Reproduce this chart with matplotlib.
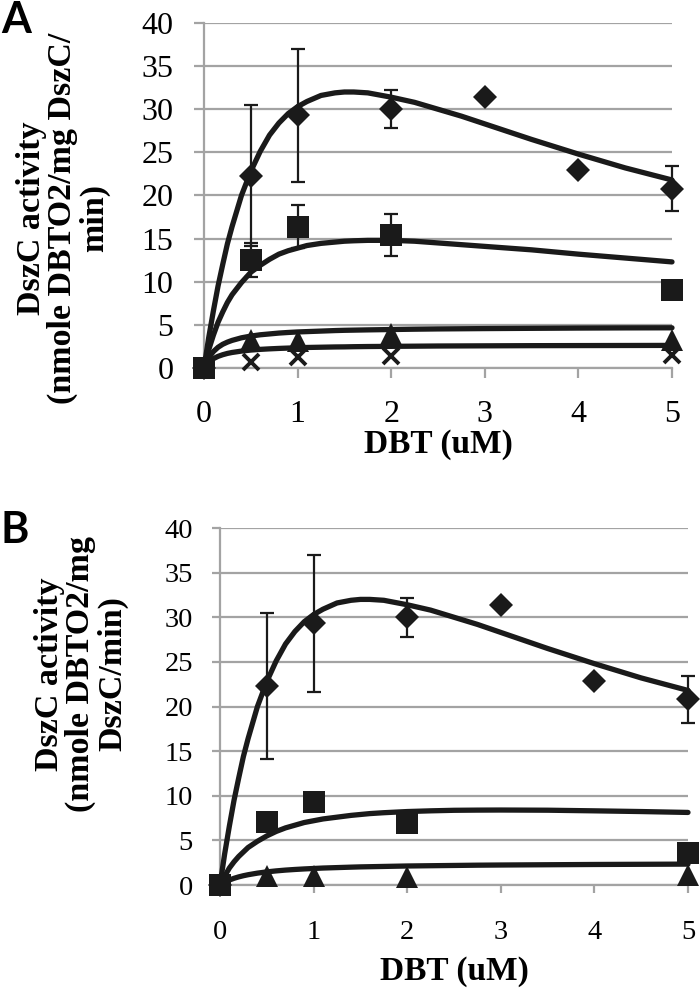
import matplotlib
matplotlib.use("Agg")
import matplotlib.pyplot as plt

# ---------------- data ----------------
pts_x = [0, 0.5, 1, 2, 3, 4, 5]
diamond_y = [0, 22.3, 29.3, 30.0, 31.4, 22.9, 20.8]
diamond_err = [0, 8.2, 7.7, 2.2, 0, 0, 2.6]

sq_x = [0, 0.5, 1, 2, 5]
sqA_y = [0, 12.5, 16.4, 15.4, 9.1]
sqA_err = [0, 2.0, 2.5, 2.4, 1.0]
triA_y = [0, 3.2, 3.1, 3.9, 3.3]
crossA_y = [0, 0.7, 1.3, 1.4, 1.5]

sqB_y = [0, 7.1, 9.3, 7.0, 3.6]
sqB_err = [0, 0, 0.8, 0, 0]
triB_y = [0, 1.0, 1.0, 0.9, 1.1]

# fitted curves
cx = [0, 0.05, 0.1, 0.15, 0.2, 0.25, 0.3, 0.4, 0.5, 0.6, 0.7, 0.8, 0.9, 1.0, 1.1,
      1.25, 1.4, 1.5, 1.6, 1.75, 2.0, 2.25, 2.5, 2.75, 3.0, 3.5, 4.0, 4.5, 5.0]
curve_diamond = [0, 3.5, 6.6, 9.5, 12.0, 14.4, 16.4, 20.0, 22.8, 25.1, 27.0, 28.4, 29.5, 30.3, 30.9,
                 31.6, 31.9, 32.0, 32.0, 31.9, 31.4, 30.8, 30.0, 29.2, 28.3, 26.5, 24.8, 23.2, 21.8]
curve_sqA = [0, 2.1, 3.8, 5.3, 6.5, 7.6, 8.5, 9.9, 11.1, 11.9, 12.6, 13.2, 13.6, 13.9, 14.2,
             14.45, 14.6, 14.7, 14.75, 14.8, 14.8, 14.7, 14.5, 14.3, 14.1, 13.7, 13.2, 12.75, 12.3]
curve_triA = [0, 1.2, 1.9, 2.4, 2.75, 3.0, 3.2, 3.5, 3.7, 3.85, 3.95, 4.05, 4.12, 4.18, 4.22,
              4.28, 4.34, 4.37, 4.39, 4.42, 4.46, 4.5, 4.53, 4.55, 4.57, 4.6, 4.63, 4.65, 4.66]
curve_crossA = [0, 0.68, 1.08, 1.35, 1.54, 1.69, 1.8, 1.96, 2.08, 2.16, 2.22, 2.27, 2.31, 2.35, 2.38,
                2.41, 2.44, 2.45, 2.47, 2.49, 2.51, 2.53, 2.55, 2.56, 2.57, 2.59, 2.60, 2.61, 2.62]
curve_sqB = [0, 1.0, 1.9, 2.6, 3.2, 3.7, 4.2, 4.9, 5.5, 6.0, 6.4, 6.7, 7.0, 7.2, 7.4,
             7.6, 7.8, 7.9, 8.0, 8.1, 8.23, 8.31, 8.37, 8.39, 8.4, 8.38, 8.31, 8.23, 8.13]
curve_triB = [0, 0.31, 0.56, 0.75, 0.91, 1.04, 1.15, 1.33, 1.47, 1.58, 1.67, 1.74, 1.8, 1.85, 1.9,
              1.95, 2.0, 2.03, 2.05, 2.08, 2.13, 2.16, 2.19, 2.22, 2.24, 2.27, 2.30, 2.32, 2.34]

x_ticks = [0, 1, 2, 3, 4, 5]
y_ticks = [0, 5, 10, 15, 20, 25, 30, 35, 40]
ylabel_A = "DszC activity\n(nmole DBTO2/mg DszC/\nmin)"
ylabel_B = "DszC activity\n(nmole DBTO2/mg\nDszC/min)"
xlabel = "DBT (uM)"

# ---------------- style ----------------
W, H = 700, 988
fig = plt.figure(figsize=(W / 100, H / 100), dpi=100)
GRAY = "#a3a3a3"
INK = "#1a1a1a"
SERIF = "Liberation Serif"


def ax_rect(l, t, r, b):
    return [l / W, 1 - b / H, (r - l) / W, (b - t) / H]


def style(ax, fs, xpad, ypad, ticklen):
    ax.set_xlim(0, 5)
    ax.set_ylim(0, 40)
    ax.set_xticks(x_ticks)
    ax.set_yticks(y_ticks)
    ax.set_xticklabels([str(v) for v in x_ticks], fontfamily=SERIF, fontsize=fs)
    ax.set_yticklabels([str(v) for v in y_ticks], fontfamily=SERIF, fontsize=fs)
    for s in ["top", "right"]:
        ax.spines[s].set_visible(False)
    for s in ["left", "bottom"]:
        ax.spines[s].set_color(GRAY)
        ax.spines[s].set_linewidth(1.6)
    ax.yaxis.grid(True, color=GRAY, linewidth=1.6)
    ax.set_axisbelow(True)
    ax.tick_params(axis="x", direction="out", length=ticklen, width=1.6, color=GRAY, pad=xpad)
    ax.tick_params(axis="y", direction="out", length=ticklen, width=1.6, color=GRAY, pad=ypad)


def curve(ax, y):
    ax.plot(cx, y, color=INK, lw=3.8, solid_capstyle="round", solid_joinstyle="round",
            zorder=4, clip_on=False)


def marks(ax, x, y, err, marker, ms, mew=0):
    if err is not None:
        ax.errorbar(x, y, yerr=err, fmt="none", ecolor=INK, elinewidth=1.6,
                    capsize=5, capthick=1.6, zorder=3, clip_on=False)
    ax.plot(x, y, linestyle="none", marker=marker, ms=ms, color=INK,
            mec=INK, mew=mew, zorder=5, clip_on=False)


# ---------------- panel A ----------------
axA = fig.add_axes(ax_rect(204, 23, 672, 368))
style(axA, 23, 15.8, 15, 7)
marks(axA, pts_x, diamond_y, diamond_err, "D", 12.3)
marks(axA, sq_x, crossA_y, None, "x", 12, mew=2.8)
marks(axA, sq_x, triA_y, None, "^", 16)
marks(axA, sq_x, sqA_y, sqA_err, "s", 16)
for y in (curve_diamond, curve_sqA, curve_triA, curve_crossA):
    curve(axA, y)
axA.set_xlabel(xlabel, fontfamily=SERIF, fontweight="bold", fontsize=24, labelpad=0)

# ---------------- panel B ----------------
axB = fig.add_axes(ax_rect(220, 528, 688, 885))
style(axB, 20.5, 19.4, 13.7, 5.8)
marks(axB, pts_x, diamond_y, diamond_err, "D", 12.3)
marks(axB, sq_x, triB_y, None, "^", 16)
marks(axB, sq_x, sqB_y, sqB_err, "s", 16)
for y in (curve_diamond, curve_sqB, curve_triB):
    curve(axB, y)
axB.set_xlabel(xlabel, fontfamily=SERIF, fontweight="bold", fontsize=24, labelpad=8)

# ---------------- labels ----------------
fig.text(63 / W, 1 - 218 / H, ylabel_A, rotation=90, ha="center", va="center",
         multialignment="center", fontfamily=SERIF, fontweight="bold", fontsize=24.5,
         linespacing=1.03)
fig.text(81 / W, 1 - 674 / H, ylabel_B, rotation=90, ha="center", va="center",
         multialignment="center", fontfamily=SERIF, fontweight="bold", fontsize=24.5,
         linespacing=1.03)
fig.text(1 / W, 1 - 33 / H, "A", ha="left", va="baseline", fontfamily="Lato",
         fontweight="bold", fontsize=31)
fig.text(1 / W, 1 - 543 / H, "B", ha="left", va="baseline", fontfamily="Lato",
         fontweight="bold", fontsize=31)

fig.savefig("out.png", dpi=100)
